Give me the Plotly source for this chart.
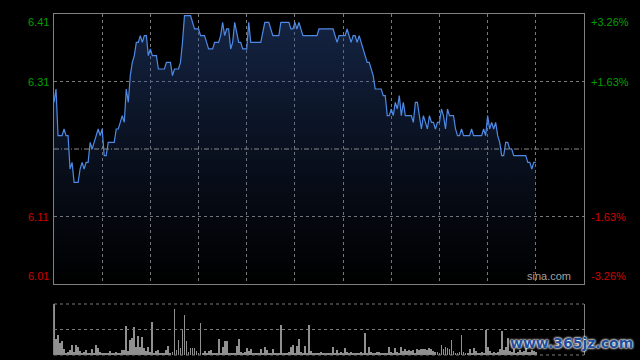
import plotly.graph_objects as go

# ---------------- data ----------------
prev_close = 6.21
pct_levels = [3.26, 1.63, -1.63, -3.26]
price_labels = ["6.41", "6.31", "6.11", "6.01"]
pct_labels = ["+3.26%", "+1.63%", "-1.63%", "-3.26%"]

minutes = [0, 1, 2, 4, 5, 6, 7, 8, 9, 10, 12, 13, 14, 15, 16, 17, 18, 19, 20, 21,
           22, 23, 24, 25, 26, 27, 30, 31, 32, 33, 34, 35, 36, 37, 38, 39, 40, 41, 42, 43,
           44, 45, 46, 47, 48, 49, 51, 52, 55, 56, 58, 59, 60, 62, 63, 64, 65, 68, 70, 72,
           73, 75, 77, 79, 80, 82, 83, 84, 85, 86, 87, 88, 89, 90, 92, 93, 94, 96, 97, 98,
           103, 105, 107, 109, 112, 113, 117, 118, 119, 120, 121, 122, 123, 124, 131, 132, 139, 140, 141, 142,
           145, 146, 147, 148, 149, 150, 151, 152, 153, 154, 156, 157, 158, 159, 160, 163, 164, 165, 166, 167,
           168, 169, 170, 171, 172, 173, 174, 175, 178, 179, 180, 181, 182, 183, 184, 185, 186, 187, 188, 189,
           190, 191, 192, 193, 194, 195, 196, 197, 199, 200, 201, 202, 203, 204, 207, 208, 209, 213, 214, 215,
           216, 217, 218, 219, 220, 221, 222, 223, 224, 225, 226, 227, 228, 229, 235, 236, 237, 238, 239, 240]
prices = [6.28, 6.30, 6.23, 6.23, 6.24, 6.23, 6.23, 6.18, 6.19, 6.16, 6.16, 6.18, 6.19, 6.18, 6.19, 6.19, 6.22, 6.21, 6.22, 6.23,
          6.24, 6.23, 6.24, 6.20, 6.20, 6.22, 6.22, 6.24, 6.24, 6.25, 6.26, 6.25, 6.30, 6.28, 6.32, 6.34, 6.35, 6.37, 6.37, 6.38,
          6.37, 6.38, 6.38, 6.35, 6.36, 6.35, 6.35, 6.33, 6.33, 6.34, 6.34, 6.32, 6.33, 6.33, 6.34, 6.37, 6.41, 6.41, 6.39, 6.39,
          6.38, 6.38, 6.36, 6.36, 6.37, 6.37, 6.38, 6.40, 6.38, 6.39, 6.39, 6.36, 6.37, 6.40, 6.37, 6.37, 6.36, 6.36, 6.40, 6.37,
          6.37, 6.40, 6.40, 6.38, 6.38, 6.40, 6.40, 6.39, 6.39, 6.40, 6.39, 6.40, 6.39, 6.38, 6.38, 6.39, 6.39, 6.38, 6.37, 6.38,
          6.38, 6.39, 6.38, 6.37, 6.38, 6.38, 6.37, 6.38, 6.37, 6.36, 6.34, 6.34, 6.33, 6.32, 6.30, 6.30, 6.29, 6.29, 6.26, 6.26,
          6.27, 6.26, 6.28, 6.27, 6.29, 6.26, 6.28, 6.26, 6.26, 6.25, 6.28, 6.28, 6.26, 6.24, 6.26, 6.25, 6.24, 6.26, 6.25, 6.25,
          6.24, 6.25, 6.25, 6.27, 6.26, 6.24, 6.27, 6.26, 6.26, 6.24, 6.23, 6.23, 6.24, 6.23, 6.23, 6.24, 6.23, 6.23, 6.24, 6.23,
          6.26, 6.24, 6.25, 6.24, 6.25, 6.23, 6.22, 6.20, 6.20, 6.22, 6.22, 6.21, 6.21, 6.20, 6.20, 6.19, 6.19, 6.18, 6.19, 6.19]

volume = [150, 47, 60, 35, 42, 17, 7, 10, 15, 30, 10, 30, 25, 13, 7, 10, 15, 7, 5, 17,
          7, 30, 20, 10, 5, 3, 4, 3, 12, 3, 4, 9, 3, 4, 15, 15, 85, 12, 45, 50,
          82, 25, 55, 25, 52, 20, 12, 25, 10, 97, 4, 12, 15, 7, 3, 4, 15, 27, 4, 10,
          135, 15, 45, 22, 77, 117, 42, 10, 20, 22, 20, 12, 5, 93, 7, 12, 4, 12, 15, 3,
          4, 3, 48, 5, 25, 42, 40, 4, 7, 3, 4, 27, 48, 10, 4, 10, 20, 12, 17, 3,
          4, 3, 4, 17, 5, 25, 15, 4, 3, 17, 4, 3, 5, 87, 4, 3, 4, 10, 25, 30,
          4, 27, 47, 10, 4, 27, 4, 87, 12, 7, 3, 5, 4, 10, 5, 4, 7, 3, 4, 23,
          4, 15, 7, 10, 4, 22, 10, 3, 10, 4, 7, 5, 3, 10, 4, 65, 4, 23, 10, 7,
          4, 9, 10, 3, 5, 4, 3, 23, 10, 4, 22, 10, 4, 25, 12, 17, 12, 15, 12, 15,
          4, 17, 15, 18, 17, 17, 15, 20, 17, 12, 10, 10, 4, 30, 17, 25, 20, 17, 45, 12,
          7, 4, 10, 60, 10, 4, 7, 17, 4, 20, 12, 7, 4, 10, 4, 75, 25, 12, 7, 10,
          4, 10, 17, 70, 15, 23, 50, 12, 10, 17, 7, 10, 15, 8, 12, 20, 10, 8, 15, 12,
          10]
vol_minutes = list(range(len(volume)))

session_len = 264      # full width of the time axis (11 grid intervals)
grid_step = 24

# ---------------- figure ----------------
y_lo = prev_close * (1 - pct_levels[0] / 100)
y_hi = prev_close * (1 + pct_levels[0] / 100)
level_vals = [prev_close * (1 + p / 100) for p in pct_levels]

fig = go.Figure()

fig.add_trace(go.Scatter(
    x=minutes, y=prices, mode="lines",
    line=dict(color="#4d8ae6", width=1.2),
    fill="tozeroy",
    fillgradient=dict(type="vertical",
                      colorscale=[[0, "rgba(40,70,130,0.0)"], [1, "rgba(45,80,150,0.45)"]],
                      start=y_lo, stop=max(prices)),
    hoverinfo="skip", xaxis="x", yaxis="y"))

fig.add_trace(go.Bar(
    x=vol_minutes, y=volume, width=0.45,
    marker=dict(color="#909090", line=dict(width=0)),
    hoverinfo="skip", xaxis="x2", yaxis="y2"))

grid_color = "#7a7a7a"
border_color = "#808080"
total_h = 360 - 14 - 5
price_bottom = (355 - 284) / total_h
vol_top = (355 - 304) / total_h

fig.update_layout(
    width=640, height=360,
    margin=dict(l=54, r=56, t=14, b=5),
    paper_bgcolor="black", plot_bgcolor="black",
    showlegend=False, bargap=0,
    font=dict(family="Liberation Sans, Arial, sans-serif", size=11),
    xaxis=dict(range=[0, session_len], domain=[0, 1],
               tickvals=list(range(grid_step, session_len, grid_step)),
               showticklabels=False, ticks="",
               showgrid=True, gridcolor=grid_color, griddash="dot", gridwidth=1,
               showline=True, mirror=True, linecolor=border_color, linewidth=1,
               zeroline=False, fixedrange=True),
    yaxis=dict(range=[y_lo, y_hi], domain=[price_bottom, 1],
               tickvals=[level_vals[1], level_vals[2]],
               showticklabels=False, ticks="",
               showgrid=True, gridcolor=grid_color, griddash="dot", gridwidth=1,
               showline=True, mirror=True, linecolor=border_color, linewidth=1,
               zeroline=False, fixedrange=True),
    xaxis2=dict(range=[0, session_len], anchor="y2", domain=[0, 1],
                showticklabels=False, ticks="", showgrid=False,
                showline=False, zeroline=False, fixedrange=True),
    yaxis2=dict(range=[0, 150], domain=[0, vol_top], anchor="x2",
                showticklabels=False, ticks="", showgrid=False,
                showline=True, mirror=True, linecolor=border_color, linewidth=1,
                zeroline=False, fixedrange=True),
)

# previous close reference line
fig.add_shape(type="line", xref="x domain", yref="y", x0=0, x1=1,
              y0=prev_close, y1=prev_close,
              line=dict(color="#8a8a8a", width=1, dash="5px,2px,1px,2px"))

# volume panel dotted guide lines (top, middle, bottom)
for frac in [0, 0.5, 1]:
    fig.add_shape(type="line", xref="x2 domain", yref="y2 domain",
                  x0=0, x1=1, y0=frac, y1=frac,
                  line=dict(color=grid_color, width=1, dash="dot"))

# axis labels
anchors = ["top", "middle", "middle", "bottom"]
for val, lab, pct, pct_lab, anc in zip(level_vals, price_labels, pct_levels, pct_labels, anchors):
    col = "#00a000" if pct > 0 else "#d00000"
    yv = min(max(val, y_lo), y_hi)
    fig.add_annotation(text=lab, xref="paper", x=0, xanchor="right", xshift=-3,
                       yref="y", y=yv, yanchor=anc, showarrow=False,
                       font=dict(color=col, size=11))
    fig.add_annotation(text=pct_lab, xref="paper", x=1, xanchor="left", xshift=5,
                       yref="y", y=yv, yanchor=anc, showarrow=False,
                       font=dict(color=col, size=11))

fig.add_annotation(text="sina.com", xref="paper", x=(573 - 54) / 530, xanchor="right",
                   yref="y domain", y=0, yanchor="bottom", showarrow=False,
                   font=dict(color="#a0a0a0", size=11))

fig.add_annotation(text="<b>www.365jz.com</b>", xref="paper", x=1.097, xanchor="right",
                   yref="paper", y=0.035, yanchor="middle", showarrow=False,
                   font=dict(color="#1f4e9c", size=14, family="DejaVu Sans",
                             shadow="0 0 2px #ffffff, 0 0 2px #ffffff, 0 0 3px #ffffff"))

fig.write_html("out.html")
